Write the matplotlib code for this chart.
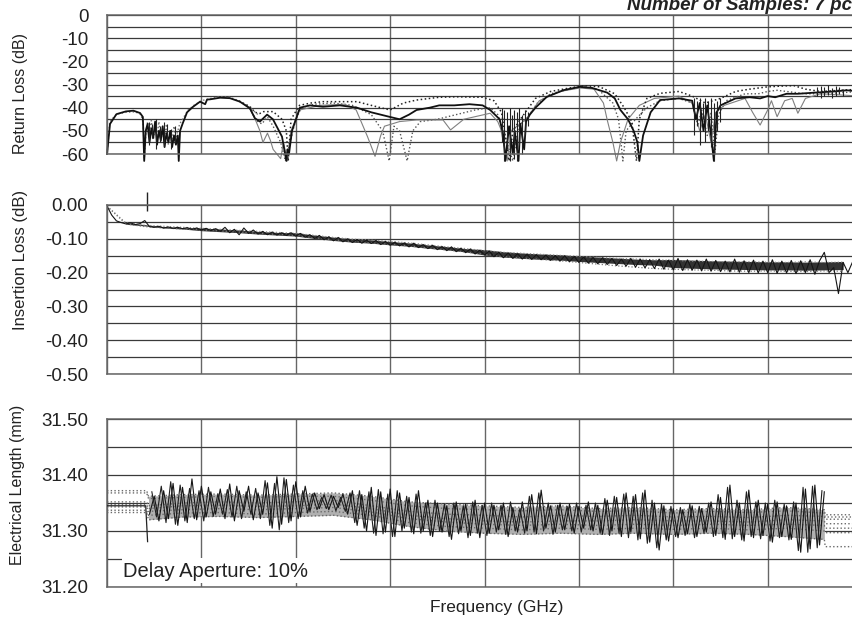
import numpy as np
import matplotlib
matplotlib.use("Agg")
import matplotlib.pyplot as plt
from matplotlib.patches import Rectangle

plt.rcParams['font.family'] = ['Liberation Sans', 'DejaVu Sans']
plt.rcParams['axes.unicode_minus'] = False

# ---------------- Return loss (dB), 7 samples ----------------
# (GHz, dB) pairs; values below -60 run past the bottom of the panel
rl_a = [(0.0, -60), (0.16, -47), (0.5, -42.8), (1.0, -41.6), (1.4, -41.3), (1.75, -42.3), (1.9, -44),
        (1.97, -63), (2.05, -50), (2.15, -47), (2.25, -55), (2.35, -49), (2.45, -53), (2.55, -46),
        (2.65, -56), (2.75, -50), (2.85, -54), (2.95, -48), (3.05, -57), (3.15, -51), (3.25, -55),
        (3.35, -50), (3.45, -57), (3.55, -52), (3.65, -56), (3.75, -52), (3.8, -63), (3.87, -50),
        (4.0, -47), (4.24, -42), (4.56, -39.6), (4.93, -37.4), (5.2, -38.5), (5.3, -36.5), (5.46, -36.4),
        (5.99, -35.7), (6.51, -35.9), (7.04, -37.4), (7.57, -40.3), (7.84, -44.6), (8.1, -46), (8.48, -43),
        (8.79, -45), (9.27, -52.5), (9.5, -63), (9.56, -58), (9.64, -60), (9.8, -50), (10.22, -40),
        (10.75, -39), (11.44, -39.6), (12.34, -39), (13.24, -40), (14.0, -42), (14.99, -44), (15.5, -45),
        (16.0, -43), (16.4, -41), (17.1, -40), (17.6, -39), (18.4, -39), (19.2, -38.5), (19.9, -39),
        (20.3, -41), (20.8, -45), (21.0, -52), (21.1, -63), (21.3, -48), (21.5, -60), (21.6, -50),
        (21.8, -63), (21.9, -47), (22.1, -58), (22.2, -46), (22.4, -43), (22.7, -40), (23.3, -35.3),
        (24.2, -32.4), (25.05, -31), (25.7, -31.5), (26.5, -33.5), (26.9, -36), (27.2, -41), (27.6, -45),
        (27.9, -50), (28.1, -55), (28.2, -63), (28.4, -52), (28.8, -42), (29.3, -36.7), (30.3, -36),
        (31.0, -37), (31.2, -45), (31.4, -38), (31.6, -50), (31.8, -39), (32.0, -52), (32.15, -63),
        (32.3, -42), (32.5, -39), (33.3, -36), (34.05, -35.5), (34.6, -36), (35.0, -35), (35.4, -35.5),
        (36.0, -34), (36.6, -34), (37.5, -33.5), (38.5, -33), (39.2, -32.5), (39.9, -33)]

rl_b = [(7.0, -37.2), (7.57, -39.5), (7.84, -42), (8.1, -42.5), (8.3, -41.7), (8.8, -41.7), (9.27, -45),
        (9.5, -50), (9.6, -63), (9.75, -45), (10.2, -39), (10.8, -38), (11.44, -37.4), (12.3, -37.4),
        (13.24, -37.4), (14.0, -39), (15.0, -41), (15.7, -38), (16.4, -36.7), (17.6, -35.5), (18.5, -35.3),
        (19.9, -35.5), (20.5, -37), (20.9, -42), (21.3, -63), (21.5, -50), (21.9, -45), (22.7, -36),
        (23.5, -33), (24.5, -31.5), (25.3, -30.5), (26.1, -31), (26.9, -34), (27.4, -40), (27.8, -46),
        (28.05, -63), (28.2, -45), (28.6, -36), (29.3, -33.8), (30.3, -33), (31.0, -35), (31.7, -38),
        (32.5, -36), (33.3, -33), (34.05, -32), (35.0, -31), (35.9, -30.6), (36.4, -30.5), (37.0, -32),
        (37.8, -33), (39.9, -32)]

rl_c = [(7.57, -40.5), (7.9, -46), (8.1, -50), (8.26, -55), (8.5, -51), (8.65, -54), (8.8, -58),
        (9.2, -62), (9.35, -55), (9.55, -63), (9.75, -50), (10.2, -41), (11.3, -39), (12.6, -38.5),
        (13.2, -41), (13.8, -52.5), (14.2, -61), (14.5, -52), (14.7, -48), (15.5, -46), (16.4, -45.3),
        (17.8, -45.3), (18.2, -49.6), (18.9, -45), (20.3, -42.4), (20.7, -46), (20.85, -49), (21.2, -63),
        (21.4, -50), (22.2, -45), (22.9, -37), (24.0, -33), (25.05, -31.5), (25.8, -32), (26.3, -38),
        (26.5, -45.3), (26.8, -55), (27.0, -63), (27.2, -55), (27.6, -45), (28.2, -39), (29.0, -36),
        (30.3, -35), (31.0, -38), (31.4, -50), (31.7, -43), (32.0, -55), (32.25, -42), (32.7, -39),
        (33.8, -36), (34.2, -42), (34.6, -47.5), (35.0, -41), (35.2, -37), (35.5, -43.9), (35.9, -37),
        (36.3, -36), (36.6, -42.4), (37.0, -36), (37.8, -34), (39.9, -35)]

rl_d = [(7.57, -40.3), (7.9, -45.5), (8.2, -47), (8.5, -44), (8.8, -48), (9.2, -55), (9.45, -63),
        (9.7, -55), (10.0, -45), (10.3, -40), (11.0, -38.5), (12.0, -38), (13.0, -39), (14.0, -43),
        (14.6, -50), (14.95, -63), (15.2, -48), (15.5, -50), (15.9, -63), (16.2, -50), (16.6, -46),
        (17.5, -45), (18.5, -43), (19.5, -41), (20.3, -40), (20.7, -43), (21.0, -50), (21.5, -63),
        (21.8, -48), (22.3, -44), (22.8, -38), (23.5, -34), (24.5, -32), (25.3, -31), (26.0, -32),
        (26.8, -38), (27.1, -45), (27.33, -63), (27.5, -50), (28.0, -45), (28.6, -40), (29.3, -37),
        (30.3, -36), (31.0, -38), (31.3, -48), (31.5, -41), (31.8, -52), (32.0, -42), (32.2, -60),
        (32.4, -43), (32.8, -37), (33.8, -34), (34.5, -34), (35.0, -33), (35.5, -32.5), (36.0, -33),
        (37.0, -34), (38.0, -34), (39.9, -33)]

rl_e = [(0.0, -60), (0.15, -46), (0.5, -42.8), (1.0, -42), (1.5, -41.8), (1.8, -43), (1.92, -47),
        (1.98, -62), (2.05, -52), (2.15, -46), (2.25, -51), (2.35, -45.5), (2.45, -54), (2.55, -48),
        (2.65, -52), (2.75, -46), (2.85, -55), (2.95, -49), (3.05, -53), (3.15, -47), (3.25, -56),
        (3.35, -50), (3.45, -54), (3.55, -48), (3.65, -53), (3.75, -50), (3.85, -47), (4.0, -45),
        (4.3, -41), (4.6, -39), (5.0, -37), (5.5, -36), (6.0, -35.3), (6.5, -35.5), (7.0, -37),
        (7.5, -39.5), (8.0, -43)]

# noisy stretches (dense nulls) as min/max spikes
rl_spike_f = [2.2, 2.4, 2.6, 2.8, 3.0, 3.2, 3.4, 3.6,
              20.9, 21.05, 21.2, 21.35, 21.45, 21.55, 21.7, 21.85, 22.0, 22.15, 22.3,
              31.1, 31.25, 31.4, 31.55, 31.7, 31.85, 32.0, 32.15, 32.3, 32.45,
              37.6, 37.8, 38.0, 38.2, 38.4, 38.6, 38.8, 39.0]
rl_spike_lo = [-56, -53, -58, -55, -57, -54, -58, -55,
               -55, -63, -58, -63, -50, -62, -63, -56, -60, -52, -48,
               -52, -48, -56, -45, -55, -50, -57, -63, -50, -46,
               -35, -36, -35, -34.5, -36, -35, -34, -35]
rl_spike_hi = [-46, -47, -45, -48, -46, -47, -49, -48,
               -40, -41, -42, -40, -43, -41, -42, -40, -43, -41, -42,
               -36, -37, -36, -38, -36, -37, -36, -38, -37, -36,
               -31, -30.5, -31, -30, -31.5, -30.5, -31, -32]

# ---------------- Insertion loss (dB) ----------------
il_f = np.arange(0, 40, 0.25)
il_main = [-0.003, -0.030, -0.047, -0.052, -0.056, -0.053, -0.058, -0.055,
           -0.046, -0.064, -0.066, -0.063, -0.068, -0.065, -0.069, -0.066,
           -0.070, -0.067, -0.072, -0.068, -0.074, -0.069, -0.076, -0.070,
           -0.078, -0.066, -0.082, -0.072, -0.088, -0.068, -0.084, -0.074,
           -0.086, -0.078, -0.088, -0.080, -0.089, -0.082, -0.090, -0.082,
           -0.092, -0.084, -0.095, -0.088, -0.099, -0.090, -0.103, -0.094,
           -0.106, -0.096, -0.109, -0.100, -0.111, -0.102, -0.113, -0.104,
           -0.114, -0.105, -0.117, -0.108, -0.119, -0.110, -0.121, -0.112,
           -0.124, -0.113, -0.126, -0.117, -0.129, -0.119, -0.132, -0.123,
           -0.135, -0.124, -0.138, -0.128, -0.141, -0.130, -0.145, -0.134,
           -0.148, -0.136, -0.153, -0.140, -0.156, -0.142, -0.158, -0.144,
           -0.160, -0.146, -0.161, -0.147, -0.162, -0.148, -0.164, -0.150,
           -0.166, -0.150, -0.168, -0.152, -0.170, -0.154, -0.172, -0.155,
           -0.174, -0.156, -0.176, -0.158, -0.179, -0.160, -0.181, -0.158,
           -0.184, -0.160, -0.186, -0.162, -0.188, -0.160, -0.190, -0.163,
           -0.192, -0.158, -0.194, -0.162, -0.193, -0.163, -0.195, -0.160,
           -0.196, -0.164, -0.197, -0.166, -0.198, -0.160, -0.199, -0.165,
           -0.200, -0.163, -0.201, -0.166, -0.200, -0.162, -0.202, -0.166,
           -0.201, -0.164, -0.203, -0.165, -0.200, -0.162, -0.205, -0.165,
           -0.140, -0.200, -0.185, -0.262, -0.170, -0.200, -0.168, -0.198]

il_f_coarse = np.arange(0, 40, 1.0)
il_upper = [-0.003, -0.053, -0.060, -0.063, -0.066, -0.069, -0.072, -0.075, -0.078, -0.081,
            -0.084, -0.090, -0.096, -0.101, -0.104, -0.108, -0.112, -0.118, -0.124, -0.129,
            -0.135, -0.140, -0.143, -0.146, -0.149, -0.152, -0.155, -0.158, -0.160, -0.162,
            -0.164, -0.166, -0.167, -0.168, -0.168, -0.169, -0.170, -0.168, -0.170, -0.169]
il_lower = [-0.004, -0.056, -0.064, -0.068, -0.071, -0.074, -0.077, -0.080, -0.084, -0.087,
            -0.090, -0.097, -0.103, -0.108, -0.112, -0.117, -0.121, -0.127, -0.133, -0.139,
            -0.146, -0.153, -0.157, -0.161, -0.165, -0.170, -0.175, -0.180, -0.184, -0.188,
            -0.190, -0.192, -0.193, -0.195, -0.196, -0.195, -0.196, -0.197, -0.195, -0.196]
# dense dark core of the overlapping noisy traces, 1 .. 39 GHz
il_band_f = np.arange(1, 40, 1.0)
il_band_hi = [-0.053, -0.058, -0.064, -0.067, -0.068, -0.071, -0.074, -0.078, -0.081,
              -0.082, -0.089, -0.095, -0.100, -0.103, -0.108, -0.112, -0.118, -0.123, -0.129,
              -0.132, -0.138, -0.142, -0.145, -0.147, -0.151, -0.154, -0.157, -0.160, -0.162,
              -0.161, -0.163, -0.165, -0.166, -0.167, -0.168, -0.168, -0.169, -0.168, -0.167]
il_band_lo = [-0.057, -0.062, -0.068, -0.071, -0.076, -0.079, -0.082, -0.086, -0.089,
              -0.092, -0.099, -0.105, -0.110, -0.113, -0.118, -0.122, -0.128, -0.133, -0.139,
              -0.148, -0.154, -0.158, -0.161, -0.163, -0.167, -0.170, -0.173, -0.176, -0.178,
              -0.185, -0.187, -0.189, -0.190, -0.191, -0.192, -0.192, -0.193, -0.192, -0.191]

# ---------------- Electrical length (mm) ----------------
el_left = [31.372, 31.368, 31.352, 31.347, 31.343, 31.337, 31.333]   # held below aperture start
el_right = [31.329, 31.325, 31.321, 31.313, 31.305, 31.297, 31.272]  # held above aperture end
el_mid_f = [2.2, 4, 6, 8, 10, 12, 14, 16, 18, 20, 22, 24, 26, 28, 30, 32, 34, 36, 38]
el_mid = [
    [31.362, 31.365, 31.366, 31.364, 31.366, 31.368, 31.362, 31.352, 31.348, 31.345,
     31.342, 31.345, 31.340, 31.342, 31.338, 31.340, 31.338, 31.342, 31.338],
    [31.358, 31.360, 31.362, 31.360, 31.362, 31.362, 31.355, 31.345, 31.340, 31.338,
     31.336, 31.338, 31.335, 31.336, 31.332, 31.335, 31.333, 31.336, 31.332],
    [31.345, 31.350, 31.352, 31.350, 31.352, 31.355, 31.345, 31.335, 31.330, 31.328,
     31.325, 31.328, 31.326, 31.328, 31.325, 31.326, 31.324, 31.328, 31.326],
    [31.340, 31.345, 31.346, 31.344, 31.345, 31.348, 31.340, 31.328, 31.322, 31.318,
     31.316, 31.318, 31.318, 31.320, 31.318, 31.318, 31.316, 31.320, 31.318],
    [31.335, 31.338, 31.340, 31.338, 31.340, 31.342, 31.334, 31.322, 31.316, 31.312,
     31.310, 31.312, 31.310, 31.312, 31.310, 31.312, 31.310, 31.312, 31.310],
    [31.328, 31.332, 31.333, 31.330, 31.333, 31.335, 31.328, 31.315, 31.308, 31.305,
     31.302, 31.305, 31.303, 31.305, 31.303, 31.305, 31.302, 31.305, 31.300],
    [31.320, 31.325, 31.326, 31.324, 31.326, 31.328, 31.320, 31.308, 31.300, 31.296,
     31.294, 31.296, 31.294, 31.296, 31.294, 31.296, 31.294, 31.290, 31.285],
]
el_lead_f = [0.0, 2.05, 2.15]
el_lead = [31.345, 31.345, 31.281]
el_f = np.arange(2.25, 38.01, 0.25)
el_main = [31.330, 31.362, 31.318, 31.372, 31.322, 31.385, 31.310, 31.378,
           31.315, 31.393, 31.320, 31.380, 31.325, 31.370, 31.330, 31.375,
           31.322, 31.384, 31.318, 31.372, 31.335, 31.380, 31.320, 31.368,
           31.330, 31.386, 31.305, 31.397, 31.312, 31.392, 31.318, 31.388,
           31.325, 31.380, 31.335, 31.368, 31.340, 31.365, 31.338, 31.362,
           31.342, 31.366, 31.330, 31.372, 31.310, 31.365, 31.300, 31.378,
           31.292, 31.370, 31.298, 31.375, 31.290, 31.368, 31.305, 31.360,
           31.295, 31.372, 31.300, 31.355, 31.290, 31.350, 31.298, 31.345,
           31.285, 31.352, 31.300, 31.348, 31.292, 31.355, 31.288, 31.350,
           31.296, 31.346, 31.302, 31.350, 31.290, 31.342, 31.298, 31.352,
           31.300, 31.365, 31.295, 31.373, 31.305, 31.345, 31.298, 31.350,
           31.302, 31.348, 31.296, 31.344, 31.305, 31.352, 31.300, 31.346,
           31.294, 31.355, 31.300, 31.360, 31.290, 31.368, 31.298, 31.365,
           31.286, 31.373, 31.280, 31.350, 31.266, 31.345, 31.282, 31.340,
           31.288, 31.338, 31.295, 31.345, 31.290, 31.340, 31.298, 31.352,
           31.292, 31.360, 31.285, 31.382, 31.290, 31.350, 31.282, 31.373,
           31.288, 31.355, 31.292, 31.348, 31.280, 31.352, 31.290, 31.345,
           31.285, 31.350, 31.262, 31.375, 31.268, 31.382, 31.275, 31.370]
el_f2 = np.arange(2.375, 37.9, 0.25)
el_main2 = [31.370, 31.325, 31.380, 31.315, 31.388, 31.312, 31.382, 31.318,
            31.376, 31.322, 31.372, 31.318, 31.378, 31.326, 31.366, 31.330,
            31.374, 31.325, 31.380, 31.322, 31.370, 31.330, 31.376, 31.322,
            31.390, 31.310, 31.385, 31.302, 31.395, 31.315, 31.382, 31.322,
            31.372, 31.332, 31.366, 31.338, 31.360, 31.340, 31.364, 31.336,
            31.360, 31.335, 31.368, 31.315, 31.372, 31.305, 31.370, 31.296,
            31.374, 31.295, 31.366, 31.290, 31.372, 31.300, 31.362, 31.298,
            31.366, 31.296, 31.350, 31.292, 31.355, 31.300, 31.348, 31.290,
            31.350, 31.295, 31.345, 31.288, 31.352, 31.296, 31.346, 31.292,
            31.350, 31.298, 31.346, 31.294, 31.352, 31.300, 31.340, 31.296,
            31.362, 31.298, 31.368, 31.300, 31.350, 31.294, 31.346, 31.302,
            31.344, 31.300, 31.350, 31.298, 31.346, 31.302, 31.350, 31.296,
            31.358, 31.292, 31.362, 31.296, 31.366, 31.288, 31.362, 31.284,
            31.368, 31.278, 31.355, 31.270, 31.348, 31.284, 31.344, 31.290,
            31.342, 31.292, 31.348, 31.288, 31.344, 31.296, 31.350, 31.290,
            31.365, 31.288, 31.378, 31.286, 31.355, 31.284, 31.370, 31.290,
            31.352, 31.286, 31.350, 31.282, 31.355, 31.288, 31.348, 31.284,
            31.352, 31.265, 31.378, 31.262, 31.380, 31.270, 31.372]
el_tail_f = [38.05, 40.0]


def style_panel(ax, lo, hi, major, minor, fmt):
    ax.set_xlim(0, 40)
    ax.set_ylim(lo, hi)
    ax.set_xticks(np.arange(0, 41, 5))
    ax.set_xticklabels([])
    ax.set_yticks(major)
    ax.set_yticklabels([fmt % (round(v, 2) + 0.0) for v in major])
    ax.set_yticks(minor, minor=True)
    ax.tick_params(which='both', length=0, pad=13.5, labelsize=13.5, labelcolor='#222')
    ax.grid(True, which='both', axis='y', color='#3a3a3a', lw=0.9)
    ax.grid(True, which='major', axis='x', color='#666666', lw=1.0)
    ax.set_axisbelow(True)
    for s in ax.spines.values():
        s.set_color('#666666')
        s.set_linewidth(1.1)


fig = plt.figure(figsize=(8.52, 6.18), dpi=100)
ax1 = fig.add_axes([0.1256, 0.7508, 0.8862, 0.2249])
ax2 = fig.add_axes([0.1256, 0.3948, 0.8862, 0.2735])
ax3 = fig.add_axes([0.1256, 0.0502, 0.8862, 0.2718])

# return loss
style_panel(ax1, -60, 0, np.arange(-60, 1, 10), np.arange(-55, 0, 10), '%d')
for tr, col, ls, lw in [(rl_e, '#777777', ':', 1.0), (rl_d, '#555555', ':', 1.0),
                        (rl_c, '#808080', '-', 0.8), (rl_b, '#222222', ':', 1.1),
                        (rl_a, '#111111', '-', 1.3)]:
    f, v = zip(*tr)
    ax1.plot(f, v, color=col, ls=ls, lw=lw, clip_on=False)
ax1.vlines(rl_spike_f, rl_spike_lo, rl_spike_hi, colors='#222222', lw=0.8, clip_on=False)

# insertion loss
style_panel(ax2, -0.5, 0, np.arange(-0.5, 0.01, 0.1), np.arange(-0.45, 0, 0.1), '%.2f')
ax2.fill_between(il_band_f, il_band_lo, il_band_hi, color='#333333', lw=0)
ax2.plot(il_f_coarse, il_upper, color='#888888', ls=':', lw=0.9)
ax2.plot(il_f_coarse, il_lower, color='#777777', ls=':', lw=0.9)
ax2.plot(il_f, il_main, color='#151515', lw=0.8)
ax2.vlines([2.12], [-0.018], [0.037], colors='#222222', lw=1.0, clip_on=False)

# electrical length
style_panel(ax3, 31.2, 31.5, np.arange(31.2, 31.51, 0.1), np.arange(31.25, 31.5, 0.1), '%.2f')
ax3.add_patch(Rectangle((0.0199, 0.024), 0.289, 0.149, transform=ax3.transAxes,
                        facecolor='white', edgecolor='none', zorder=1.5))
ax3.fill_between(el_mid_f, el_mid[6], el_mid[0], color='#b0b0b0', lw=0, zorder=1.8)
for i in range(len(el_left)):
    f = [0.0, 2.1] + el_mid_f + el_tail_f
    v = [el_left[i], el_left[i]] + el_mid[i] + [el_right[i], el_right[i]]
    ax3.plot(f, v, color='#6a6a6a', ls=':', lw=1.0, zorder=2)
ax3.plot(el_lead_f, el_lead, color='#222222', lw=0.9, zorder=3)
ax3.plot(el_f, el_main, color='#151515', lw=0.8, zorder=3)
ax3.plot(el_f2, el_main2, color='#202020', lw=0.8, zorder=3)
ax3.text(0.0212, 0.0595, 'Delay Aperture: 10%', transform=ax3.transAxes,
         fontsize=14.5, color='#222', va='baseline', zorder=4)

fig.text(0.0235, 0.8495, 'Return Loss (dB)', rotation=90, ha='center', va='center', fontsize=11.5, color='#222')
fig.text(0.0235, 0.5793, 'Insertion Loss (dB)', rotation=90, ha='center', va='center', fontsize=12, color='#222')
fig.text(0.0200, 0.2152, 'Electrical Length (mm)', rotation=90, ha='center', va='center', fontsize=11.5, color='#222')
fig.text(0.5833, 0.0162, 'Frequency (GHz)', ha='center', va='center', fontsize=12.5, color='#222')
fig.text(0.7359, 0.9846, 'Number of Samples: 7 pcs', ha='left', va='baseline',
         fontsize=13.5, fontweight='bold', fontstyle='italic', color='#222')

fig.savefig('out.png', dpi=100)
